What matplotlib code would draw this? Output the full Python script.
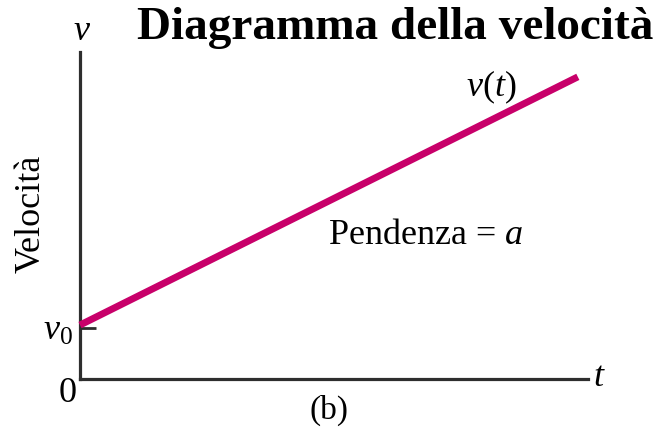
import matplotlib
matplotlib.use("Agg")
import matplotlib.pyplot as plt

plt.rcParams["font.family"] = ["Liberation Serif", "DejaVu Serif"]
plt.rcParams["mathtext.fontset"] = "custom"
plt.rcParams["mathtext.rm"] = "Liberation Serif"
plt.rcParams["mathtext.it"] = "Liberation Serif:italic"

# velocity v(t) = v0 + a t
t_vals = [0.0, 9.8]
v_vals = [1.65, 9.24]
v0 = v_vals[0]

title = "Diagramma della velocità"
y_label = "Velocità"
slope_label = r"Pendenza = $a$"
curve_label = r"$v(t)$"

W, H = 665, 428
fig = plt.figure(figsize=(W / 100, H / 100), dpi=100)
ax = fig.add_axes([80 / W, 1 - 379 / H, 508 / W, 327 / H])
ax.set_xlim(0, 10)
ax.set_ylim(0, 10)

axis_color = "#2e2e2e"
for side in ("top", "right"):
    ax.spines[side].set_visible(False)
for side in ("left", "bottom"):
    ax.spines[side].set_linewidth(2.3)
    ax.spines[side].set_color(axis_color)
ax.set_xticks([])
ax.set_yticks([])

# short tick marking v0 on the vertical axis
ax.plot([0, 0.32], [v0 - 0.08, v0 - 0.08], color=axis_color, lw=2.0,
        solid_capstyle="butt", zorder=2, clip_on=False)
ax.plot(t_vals, v_vals, color="#C8006A", lw=5.0, solid_capstyle="butt",
        zorder=3, clip_on=False)


def px(x, y):
    return x / W, 1 - y / H


fig.text(*px(395, 28), title, fontsize=34, fontweight="bold",
         ha="center", va="center")
fig.text(*px(82, 32), r"$v$", fontsize=26, ha="center", va="center")
fig.text(*px(599, 377), r"$t$", fontsize=26, ha="center", va="center")
fig.text(*px(68, 394), "0", fontsize=26, ha="center", va="center")
fig.text(*px(58, 331), r"$v_0$", fontsize=26, ha="center", va="center")
fig.text(*px(329, 410), "(b)", fontsize=24, ha="center", va="center")
fig.text(*px(31, 214), y_label, fontsize=26, rotation=90,
         ha="center", va="center")
fig.text(*px(491, 87), curve_label, fontsize=26, ha="center", va="center")
fig.text(*px(426, 236), slope_label, fontsize=26, ha="center", va="center")

fig.savefig("out.png", dpi=100, facecolor="white")
